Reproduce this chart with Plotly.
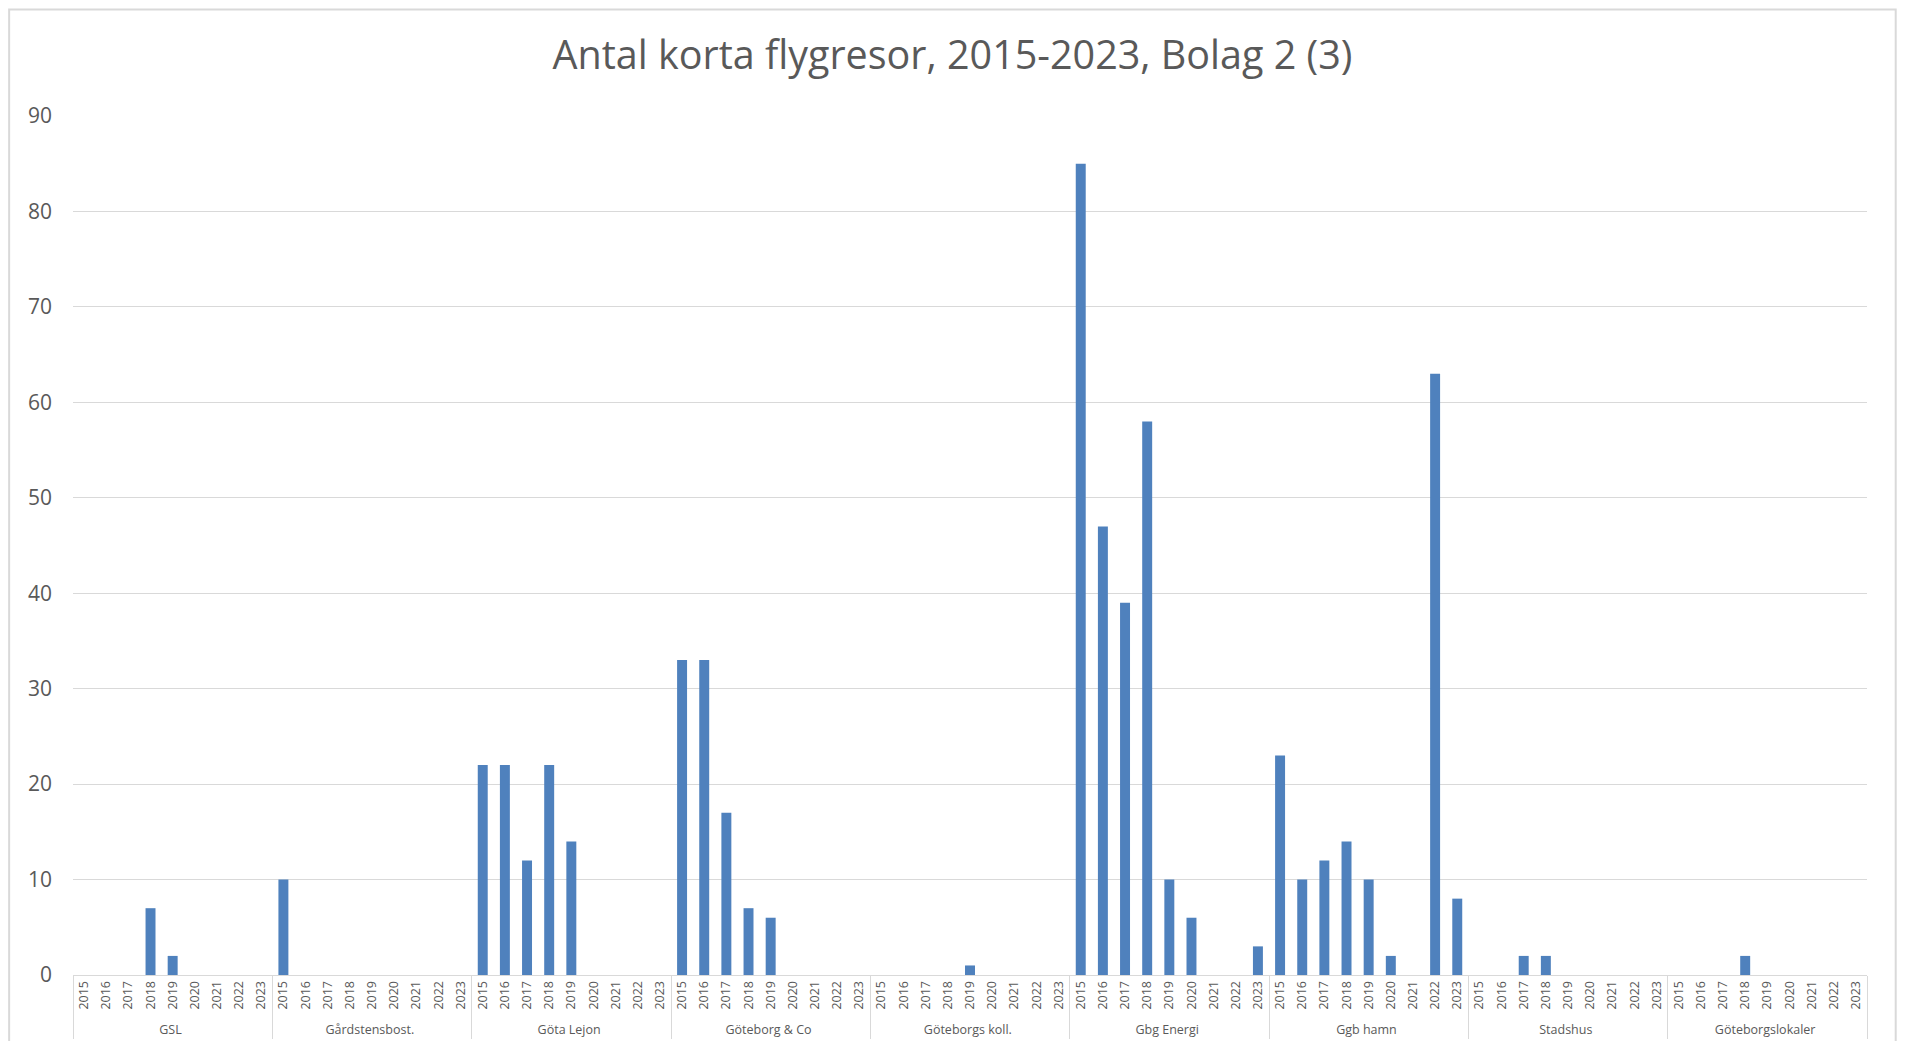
import plotly.graph_objects as go

# Bolag och år
bolag = ["GSL", "Gårdstensbost.", "Göta Lejon", "Göteborg & Co", "Göteborgs koll.",
         "Gbg Energi", "Ggb hamn", "Stadshus", "Göteborgslokaler"]
years = ["2015", "2016", "2017", "2018", "2019", "2020", "2021", "2022", "2023"]

# Antal korta flygresor per bolag, 2015-2023
gsl = [0, 0, 0, 7, 2, 0, 0, 0, 0]
gardsten = [10, 0, 0, 0, 0, 0, 0, 0, 0]
gota_lejon = [22, 22, 12, 22, 14, 0, 0, 0, 0]
gbg_co = [33, 33, 17, 7, 6, 0, 0, 0, 0]
gbg_koll = [0, 0, 0, 0, 1, 0, 0, 0, 0]
gbg_energi = [85, 47, 39, 58, 10, 6, 0, 0, 3]
gbg_hamn = [23, 10, 12, 14, 10, 2, 0, 63, 8]
stadshus = [0, 0, 2, 2, 0, 0, 0, 0, 0]
lokaler = [0, 0, 0, 2, 0, 0, 0, 0, 0]

series = [gsl, gardsten, gota_lejon, gbg_co, gbg_koll, gbg_energi, gbg_hamn, stadshus, lokaler]

outer, inner, values = [], [], []
for name, vals in zip(bolag, series):
    for yr, v in zip(years, vals):
        outer.append(name)
        inner.append(yr)
        values.append(v)

text_color = "#595959"
grid_color = "#D9D9D9"

fig = go.Figure(go.Bar(x=[outer, inner], y=values, marker_color="#4F81BD",
                       marker_line_width=0))

fig.update_layout(
    width=1889, height=1033,
    paper_bgcolor="white", plot_bgcolor="white",
    margin=dict(l=65, r=30, t=108, b=66),
    bargap=0.55,
    showlegend=False,
    font=dict(family="Open Sans", color=text_color),
    title=dict(text="Antal korta flygresor, 2015-2023, Bolag 2 (3)",
               x=0.5, xanchor="center", y=0.954, yanchor="middle",
               font=dict(size=39.5, color=text_color, family="Open Sans")),
)

fig.update_yaxes(range=[0, 90], dtick=10, showgrid=True, gridcolor=grid_color,
                 gridwidth=1, zeroline=False, showline=False,
                 tickfont=dict(size=21, color=text_color), ticks="",
                 ticklabelstandoff=20)

fig.update_xaxes(type="multicategory", tickangle=-90, showgrid=False,
                 showline=True, linecolor=grid_color, linewidth=1,
                 showdividers=True, dividercolor=grid_color, dividerwidth=1,
                 ticks="", tickfont=dict(size=12.5, color=text_color),
                 automargin=False)

# ram runt diagrammet
fig.add_shape(type="rect", xref="paper", yref="paper",
              x0=-0.0356, x1=1.016, y0=-0.2, y1=1.124,
              line=dict(color=grid_color, width=2), fillcolor="rgba(0,0,0,0)")

fig.write_html("out.html")
